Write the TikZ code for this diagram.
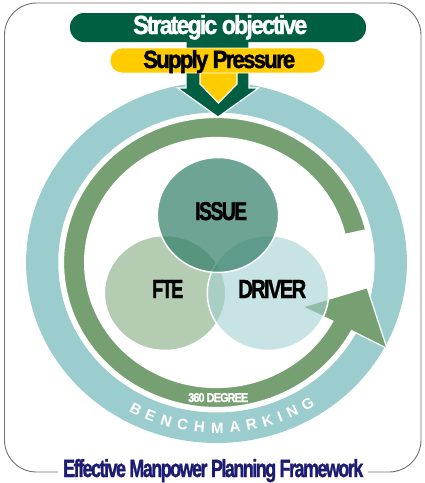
\documentclass[tikz,border=0pt]{standalone}
\usepackage{fontspec}
\setmainfont{Liberation Sans}
\newfontfamily\tightfont[FakeBold=1.6, LetterSpace=-8]{Liberation Sans}
\usepackage{graphicx}
\usepackage{tikz}
\usetikzlibrary{calc}

\definecolor{framegray}{HTML}{707070}
\definecolor{ringteal}{HTML}{9CCDCE}
\definecolor{arrowgreen}{HTML}{76A072}
\definecolor{darkgreen}{HTML}{005E42}
\definecolor{supplyyellow}{HTML}{FFCC00}
\definecolor{ftegreen}{HTML}{B3CCB2}
\definecolor{driverteal}{HTML}{A3D0D0}
\definecolor{issuegreen}{HTML}{317E69}
\definecolor{titleblue}{HTML}{1C1C72}

\newcommand{\fitlabel}[3]{\resizebox{#1}{#2}{\tightfont\bfseries #3}}

\begin{document}
\begin{tikzpicture}[x=1pt,y=-1pt,
    lbl/.style={inner sep=0pt, anchor=base west},
    venn/.style={draw=white, line width=1.5pt}]
    \useasboundingbox (0,0) rectangle (424,483);

    % frame, title sits on the lower edge
    \draw[framegray, line width=0.9pt, rounded corners=32pt] (4.5,3) rectangle (421,472);
    \node[fill=white, inner xsep=5pt, inner ysep=1pt, anchor=base west, text=titleblue] (title) at (58,477)
        {\fitlabel{300pt}{18pt}{Effective Manpower Planning Framework}};

    \begin{scope}[shift={(216.5,262.5)}, xscale=1.055, yscale=-1]
        \fill[ringteal, even odd rule] (0,0) circle[radius=180.5] (0,0) circle[radius=150];
        % 360 degree arrow
        \filldraw[fill=arrowgreen, draw=white, line width=1.2pt]
            (13:145) arc[start angle=13, end angle=332, radius=145]
            -- (332:183) -- (350:145) -- (331.5:93) -- (332:125)
            arc[start angle=332, end angle=13, radius=125] -- cycle;
        \foreach \ch/\ang [count=\i] in {B/242.5,E/247.8,N/253.3,C/258.8,H/264.4,M/270.3,
                                         A/276.1,R/281.5,K/287.0,I/291.3,N/295.7,G/301.5}
            \node[text=white, font=\fontsize{15}{15}\selectfont\bfseries, inner sep=0pt, rotate=\ang-270]
                (bench\i) at (\ang:165.5) {\ch};
    \end{scope}

    % strategic objective arrow
    \filldraw[fill=darkgreen, draw=white, line width=1.2pt]
        (186,30) -- (249,30) -- (249,88) -- (258.5,88) -- (218,117) -- (177.5,88) -- (186,88) -- cycle;
    \fill[darkgreen, rounded corners=14pt] (70,13) rectangle (366,42);
    \filldraw[fill=supplyyellow, draw=white, line width=1.2pt]
        (200,60) -- (237,60) -- (237,84) -- (218.5,103) -- (200,84) -- cycle;
    \filldraw[fill=supplyyellow, draw=white, line width=0.8pt, rounded corners=12pt] (110,48) rectangle (325,73);
    \node[lbl, text=white] (strategic) at (133,34) {\fitlabel{174pt}{19pt}{Strategic objective}};
    \node[lbl] (supply) at (143,68) {\fitlabel{152pt}{18pt}{Supply Pressure}};

    % venn circles
    \filldraw[venn, fill=ftegreen] (165,293) ellipse[x radius=60.7, y radius=57.5];
    \filldraw[venn, fill=driverteal, fill opacity=0.6] (268,293) ellipse[x radius=60.7, y radius=57.5];
    \filldraw[venn, fill=issuegreen, fill opacity=0.7] (218,215) ellipse[x radius=60.7, y radius=57.5];
    \node[lbl] (issue) at (195,220) {\fitlabel{52pt}{18pt}{ISSUE}};
    \node[lbl] (fte) at (152,298) {\fitlabel{31pt}{18pt}{FTE}};
    \node[lbl] (driver) at (238,298) {\fitlabel{68pt}{18pt}{DRIVER}};
    \node[lbl, text=white] (degree) at (188,402) {\fitlabel{60pt}{9pt}{360 DEGREE}};
\end{tikzpicture}
\end{document}
